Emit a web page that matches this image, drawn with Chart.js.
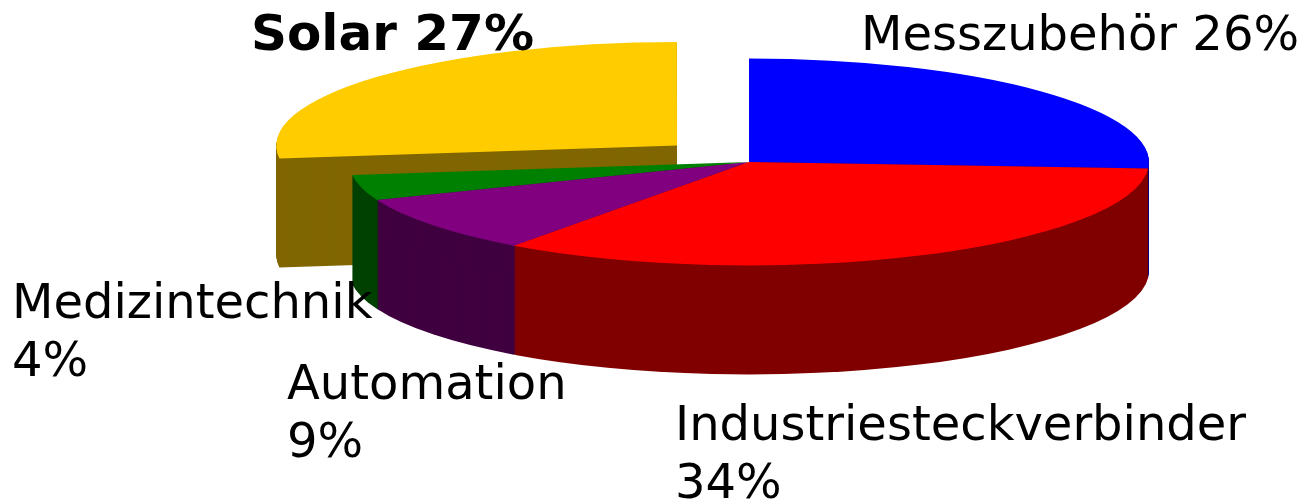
<!DOCTYPE html>
<html><head><meta charset="utf-8">
<style>html,body{margin:0;padding:0;background:#fff}#w{position:relative;width:1305px;height:501px}canvas{display:block}</style>
<script src="https://cdn.jsdelivr.net/npm/chart.js@4"></script>
</head><body><div id="w"><canvas id="c" width="1305" height="501"></canvas></div>
<script>
const categories = ['Messzubehör','Industriesteckverbinder','Automation','Medizintechnik','Solar'];
const shares = [26,34,9,4,27];
const explode = [0,0,0,0,1];
const topColours = ['#0000ff','#ff0000','#800080','#008000','#ffcc00'];
const sideColours = ['#000080','#800000','#400040','#004000','#806600'];
const labelLines = [['Messzubehör 26%'],['Industriesteckverbinder','34%'],['Automation','9%'],['Medizintechnik','4%'],['Solar 27%']];
const labelBold = [false,false,false,false,true];

const CX=749, CY=162, RX=400, RATIO=0.2585, DEPTH=109, EXPLODE=384;
const labelAnchors=[[861,50],[675,440],[287,399],[12,318],[251,50]];
const lineHeight=58, fontPx=48, boldPx=50;
const paintOrder=[4,0,3,2,1];

const pie3d={id:'pie3d',
  beforeDatasetsDraw(chart){
    const ctx=chart.ctx, arcs=chart.getDatasetMeta(0).data;
    const midY=(chart.chartArea.top+chart.chartArea.bottom)/2;
    const paint=(arc,colour,dy)=>{
      const saved=arc.options;
      arc.options=Object.assign({},saved,{backgroundColor:colour,borderColor:colour,borderWidth:0});
      ctx.save();
      ctx.translate(0,CY+dy); ctx.scale(1,RATIO); ctx.translate(0,-midY);
      arc.draw(ctx);
      ctx.restore();
      arc.options=saved;
    };
    paintOrder.forEach(i=>{
      for(let d=DEPTH;d>=1;d--) paint(arcs[i],sideColours[i],d);
      paint(arcs[i],topColours[i],0);
    });
    return false;
  },
  afterDraw(chart){
    const ctx=chart.ctx;
    ctx.save(); ctx.fillStyle='#000'; ctx.textBaseline='alphabetic'; ctx.textAlign='left';
    labelLines.forEach((lines,i)=>{
      ctx.font=(labelBold[i]?'bold '+boldPx:fontPx)+'px "DejaVu Sans"';
      lines.forEach((t,j)=>ctx.fillText(t,labelAnchors[i][0],labelAnchors[i][1]+j*lineHeight));
    });
    ctx.restore();
  }
};

new Chart(document.getElementById('c'),{
  type:'pie',
  data:{labels:categories,datasets:[{data:shares,backgroundColor:topColours,borderWidth:0,offset:explode.map(e=>e*EXPLODE)}]},
  options:{responsive:false,animation:false,radius:RX,rotation:0,
    layout:{padding:{left:2*CX-1305,right:0,top:0,bottom:0}},
    plugins:{legend:{display:false},tooltip:{enabled:false},title:{display:false}},
    events:[]},
  plugins:[pie3d]
});
</script></body></html>
